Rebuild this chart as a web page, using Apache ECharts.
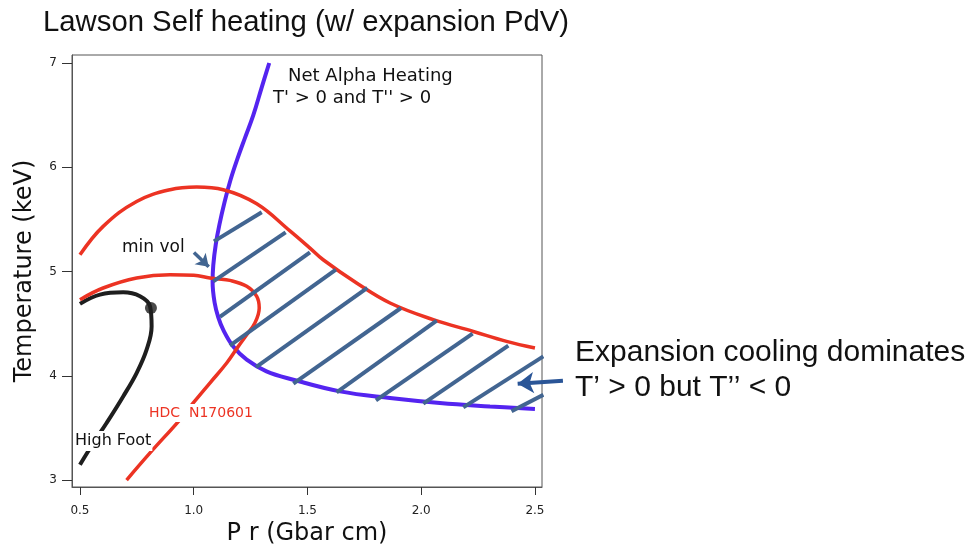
<!DOCTYPE html>
<html>
<head>
<meta charset="utf-8">
<script src="https://cdn.jsdelivr.net/npm/echarts@6/dist/echarts.min.js"></script>
<style>
  html, body { margin: 0; padding: 0; background: #fff; }
  #chart { width: 971px; height: 551px; }
</style>
</head>
<body>
<div id="chart"></div>
<script>
// Pressure-areal density (Gbar cm) vs hot-spot temperature (keV)
const xTicks = [0.5, 1.0, 1.5, 2.0, 2.5];
const yTicks = [3, 4, 5, 6, 7];

// Boundary of net alpha heating (T' > 0 and T'' > 0)
const alphaBoundary = [
  [1.332, 7.00], [1.298, 6.76], [1.262, 6.50], [1.225, 6.28], [1.192, 6.08],
  [1.162, 5.88], [1.136, 5.67], [1.113, 5.45], [1.097, 5.26], [1.086, 5.06],
  [1.083, 4.90], [1.092, 4.70], [1.108, 4.56], [1.130, 4.44], [1.174, 4.28],
  [1.233, 4.154], [1.320, 4.042], [1.438, 3.962], [1.643, 3.85], [1.863, 3.787],
  [2.082, 3.739], [2.302, 3.706], [2.500, 3.681]
];

// HDC N170601 trajectory, upper branch
const hdcUpper = [
  [0.500, 5.16], [0.602, 5.433], [0.749, 5.672], [0.896, 5.785], [1.013, 5.81],
  [1.130, 5.785], [1.277, 5.65], [1.423, 5.39], [1.511, 5.225], [1.569, 5.113],
  [1.716, 4.89], [1.863, 4.698], [2.053, 4.538], [2.229, 4.425], [2.375, 4.33],
  [2.500, 4.266]
];

// HDC N170601 trajectory, lower branch
const hdcLower = [
  [0.500, 4.73], [0.602, 4.842], [0.749, 4.938], [0.896, 4.97], [1.000, 4.965],
  [1.071, 4.938], [1.100, 4.93], [1.159, 4.915], [1.233, 4.858], [1.277, 4.762],
  [1.288, 4.65], [1.269, 4.506], [1.233, 4.394], [1.196, 4.282], [1.145, 4.122],
  [1.071, 3.93], [0.998, 3.739], [0.940, 3.58], [0.808, 3.26], [0.705, 3.00]
];

// High Foot trajectory and its end point
const highFoot = [
  [0.500, 4.69], [0.588, 4.778], [0.690, 4.80], [0.764, 4.762], [0.808, 4.666],
  [0.815, 4.474], [0.793, 4.25], [0.749, 4.026], [0.690, 3.802], [0.617, 3.547],
  [0.559, 3.355], [0.500, 3.147]
];
const highFootEnd = [[0.812, 4.65]];

// Hatching of the expansion-cooling-dominated region
const hatchSegments = [
  [[1.089, 5.289], [1.299, 5.568]],
  [[1.086, 4.906], [1.404, 5.376]],
  [[1.115, 4.564], [1.511, 5.184]],
  [[1.159, 4.289], [1.625, 5.018]],
  [[1.274, 4.084], [1.763, 4.842]],
  [[1.438, 3.924], [1.911, 4.650]],
  [[1.628, 3.841], [2.068, 4.528]],
  [[1.801, 3.764], [2.226, 4.404]],
  [[2.009, 3.732], [2.383, 4.289]],
  [[2.185, 3.697], [2.537, 4.186]],
  [[2.397, 3.659], [2.537, 3.818]]
];

// Pointer arrows: "min vol" and expansion-cooling note
const minVolArrow = [[1.001, 5.183], [1.066, 5.046]];
const coolingArrow = [[2.623, 3.953], [2.424, 3.924]];

const RED = '#ec3323';
const BLUE = '#5424f0';
const HATCH = '#426591';

const chart = echarts.init(document.getElementById('chart'), null, { renderer: 'canvas' });

const option = {
  backgroundColor: '#ffffff',
  animation: false,
  grid: {
    left: 72, right: 429, top: 55, bottom: 64,
    show: true, borderColor: '#555', borderWidth: 1
  },
  xAxis: {
    type: 'value',
    min: 0.465, max: 2.531,
    name: 'P r (Gbar cm)',
    nameLocation: 'middle',
    nameGap: 33,
    nameTextStyle: { fontFamily: 'DejaVu Sans', fontSize: 24, color: '#111' },
    axisLine: { show: true, lineStyle: { color: '#555', width: 1 } },
    axisTick: { show: true, length: 8, customValues: xTicks, lineStyle: { color: '#333' } },
    axisLabel: {
      customValues: xTicks, margin: 18,
      fontFamily: 'DejaVu Sans', fontSize: 12, color: '#222',
      formatter: v => v.toFixed(1)
    },
    splitLine: { show: false }
  },
  yAxis: {
    type: 'value',
    min: 2.933, max: 7.077,
    name: 'Temperature (keV)',
    nameLocation: 'middle',
    nameGap: 35,
    nameTextStyle: { fontFamily: 'DejaVu Sans', fontSize: 24, color: '#111' },
    axisLine: { show: true, lineStyle: { color: '#555', width: 1 } },
    axisTick: { show: true, length: 10, customValues: yTicks, lineStyle: { color: '#333' } },
    axisLabel: {
      customValues: yTicks, margin: 15,
      fontFamily: 'DejaVu Sans', fontSize: 12, color: '#222',
      formatter: v => String(Math.round(v))
    },
    splitLine: { show: false }
  },
  series: [
    {
      name: 'High Foot', type: 'line', data: highFoot, smooth: 0.4,
      showSymbol: false, lineStyle: { color: '#1e1e1e', width: 4 }, z: 2
    },
    {
      name: 'High Foot end', type: 'scatter', data: highFootEnd,
      symbolSize: 12, itemStyle: { color: '#1e1e1e' }, z: 3
    },
    {
      name: 'Alpha heating boundary', type: 'line', data: alphaBoundary, smooth: 0.4,
      showSymbol: false, lineStyle: { color: BLUE, width: 4 }, z: 3
    },
    {
      name: 'HDC upper', type: 'line', data: hdcUpper, smooth: 0.4,
      showSymbol: false, lineStyle: { color: RED, width: 3.5 }, z: 4
    },
    {
      name: 'HDC lower', type: 'line', data: hdcLower, smooth: 0.4,
      showSymbol: false, lineStyle: { color: RED, width: 3.5 }, z: 4
    },
    {
      name: 'Hatch', type: 'lines', coordinateSystem: 'cartesian2d', clip: true,
      symbol: ['none', 'none'],
      data: hatchSegments.map(s => ({ coords: s })),
      lineStyle: { color: HATCH, width: 4, opacity: 1, cap: 'butt' }, z: 5
    },
    {
      name: 'Arrows', type: 'lines', coordinateSystem: 'cartesian2d', clip: false,
      symbol: ['none', 'arrow'],
      data: [
        { coords: minVolArrow, symbolSize: 12, lineStyle: { color: HATCH, width: 3.5 } },
        { coords: coolingArrow, symbolSize: 16, lineStyle: { color: '#2a5597', width: 4 } }
      ],
      lineStyle: { opacity: 1 }, z: 6
    }
  ],
  graphic: [
    {
      type: 'text', x: 43, y: 23, z: 100,
      style: { text: 'Lawson Self heating (w/ expansion PdV)', font: '29.3px "Liberation Sans"', fill: '#111', verticalAlign: 'middle' }
    },
    {
      type: 'text', x: 575, y: 353, z: 100,
      style: { text: 'Expansion cooling dominates', font: '30px "Liberation Sans"', fill: '#111', verticalAlign: 'middle' }
    },
    {
      type: 'text', x: 575, y: 388, z: 100,
      style: { text: 'T\u2019 > 0 but T\u2019\u2019 < 0', font: '30px "Liberation Sans"', fill: '#111', verticalAlign: 'middle' }
    },
    {
      type: 'text', x: 288, y: 76, z: 100,
      style: { text: 'Net Alpha Heating', font: '18px "DejaVu Sans"', fill: '#111', verticalAlign: 'middle' }
    },
    {
      type: 'text', x: 273, y: 98, z: 100,
      style: { text: "T' > 0 and T'' > 0", font: '18px "DejaVu Sans"', fill: '#111', verticalAlign: 'middle' }
    },
    {
      type: 'text', x: 122, y: 248, z: 100,
      style: { text: 'min vol', font: '17px "DejaVu Sans"', fill: '#111', verticalAlign: 'middle' }
    },
    {
      type: 'text', x: 147, y: 413, z: 100,
      style: { text: 'HDC  N170601', font: '14px "DejaVu Sans"', fill: RED, verticalAlign: 'middle', backgroundColor: '#fff', padding: [2, 2] }
    },
    {
      type: 'text', x: 74, y: 441, z: 100,
      style: { text: 'High Foot', font: '16px "DejaVu Sans"', fill: '#111', verticalAlign: 'middle', backgroundColor: '#fff', padding: [2, 1] }
    }
  ]
};

chart.setOption(option);
</script>
</body>
</html>
